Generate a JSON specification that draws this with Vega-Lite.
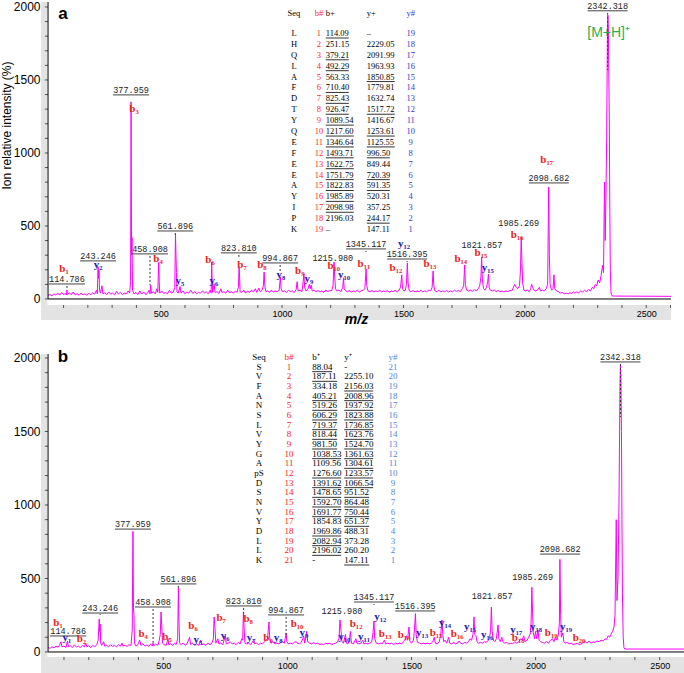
{
"$schema":"https://vega.github.io/schema/vega-lite/v6.json",
"padding":0,
"spacing":21,
"config":{"view":{"stroke":null},"font":"Liberation Sans","axis":{"labelFont":"Liberation Sans","titleFont":"Liberation Sans","grid":false}},
"datasets":{
"tx":[{"v":100},{"v":200},{"v":300},{"v":400},{"v":500},{"v":600},{"v":700},{"v":800},{"v":900},{"v":1000},{"v":1100},{"v":1200},{"v":1300},{"v":1400},{"v":1500},{"v":1600},{"v":1700},{"v":1800},{"v":1900},{"v":2000},{"v":2100},{"v":2200},{"v":2300},{"v":2400},{"v":2500},{"v":2600}],
"ty":[{"v":0},{"v":100},{"v":200},{"v":300},{"v":400},{"v":500},{"v":600},{"v":700},{"v":800},{"v":900},{"v":1000},{"v":1100},{"v":1200},{"v":1300},{"v":1400},{"v":1500},{"v":1600},{"v":1700},{"v":1800},{"v":1900},{"v":2000}],
"specA":[{"m":36,"i":25},{"m":44,"i":30},{"m":52,"i":22},{"m":60,"i":35},{"m":68,"i":28},{"m":76,"i":40},{"m":84,"i":26},{"m":92,"i":45},{"m":100,"i":30},{"m":108,"i":38},{"m":112,"i":28},{"m":114,"i":62},{"m":116,"i":30},{"m":124,"i":42},{"m":132,"i":30},{"m":140,"i":48},{"m":148,"i":28},{"m":156,"i":36},{"m":164,"i":25},{"m":172,"i":40},{"m":180,"i":30},{"m":188,"i":34},{"m":196,"i":26},{"m":204,"i":38},{"m":212,"i":30},{"m":220,"i":42},{"m":228,"i":34},{"m":236,"i":60},{"m":239,"i":35},{"m":242,"i":220},{"m":244,"i":140},{"m":246,"i":200},{"m":248,"i":60},{"m":252,"i":40},{"m":258,"i":90},{"m":262,"i":35},{"m":270,"i":42},{"m":278,"i":30},{"m":286,"i":48},{"m":294,"i":33},{"m":302,"i":40},{"m":310,"i":28},{"m":318,"i":52},{"m":326,"i":34},{"m":334,"i":45},{"m":342,"i":30},{"m":350,"i":40},{"m":358,"i":35},{"m":366,"i":55},{"m":372,"i":40},{"m":376,"i":120},{"m":378,"i":1350},{"m":380,"i":300},{"m":382,"i":420},{"m":384,"i":60},{"m":390,"i":35},{"m":398,"i":45},{"m":406,"i":30},{"m":414,"i":55},{"m":422,"i":34},{"m":430,"i":48},{"m":438,"i":30},{"m":446,"i":40},{"m":452,"i":60},{"m":456,"i":35},{"m":459,"i":95},{"m":462,"i":40},{"m":470,"i":50},{"m":478,"i":35},{"m":484,"i":70},{"m":488,"i":45},{"m":492,"i":250},{"m":494,"i":120},{"m":496,"i":40},{"m":504,"i":55},{"m":512,"i":38},{"m":520,"i":45},{"m":528,"i":35},{"m":536,"i":60},{"m":544,"i":40},{"m":552,"i":48},{"m":558,"i":80},{"m":561,"i":445},{"m":563,"i":300},{"m":565,"i":180},{"m":567,"i":50},{"m":572,"i":40},{"m":580,"i":85},{"m":584,"i":40},{"m":592,"i":55},{"m":600,"i":35},{"m":608,"i":48},{"m":616,"i":40},{"m":624,"i":60},{"m":632,"i":38},{"m":640,"i":50},{"m":648,"i":35},{"m":656,"i":45},{"m":664,"i":40},{"m":672,"i":55},{"m":680,"i":42},{"m":688,"i":48},{"m":696,"i":36},{"m":704,"i":60},{"m":708,"i":40},{"m":710,"i":252},{"m":712,"i":130},{"m":714,"i":45},{"m":720,"i":105},{"m":724,"i":45},{"m":732,"i":50},{"m":740,"i":38},{"m":748,"i":70},{"m":752,"i":45},{"m":760,"i":50},{"m":768,"i":40},{"m":776,"i":60},{"m":784,"i":42},{"m":792,"i":50},{"m":800,"i":40},{"m":808,"i":55},{"m":814,"i":45},{"m":820,"i":80},{"m":823,"i":220},{"m":825,"i":150},{"m":827,"i":50},{"m":834,"i":45},{"m":842,"i":60},{"m":850,"i":40},{"m":858,"i":55},{"m":866,"i":45},{"m":874,"i":60},{"m":882,"i":48},{"m":890,"i":70},{"m":896,"i":45},{"m":904,"i":75},{"m":910,"i":50},{"m":918,"i":60},{"m":923,"i":90},{"m":926,"i":185},{"m":929,"i":90},{"m":933,"i":50},{"m":940,"i":55},{"m":948,"i":45},{"m":956,"i":60},{"m":964,"i":48},{"m":972,"i":55},{"m":980,"i":50},{"m":988,"i":60},{"m":993,"i":150},{"m":996,"i":70},{"m":1002,"i":50},{"m":1010,"i":55},{"m":1018,"i":45},{"m":1026,"i":60},{"m":1034,"i":50},{"m":1042,"i":55},{"m":1050,"i":45},{"m":1058,"i":65},{"m":1062,"i":118},{"m":1066,"i":55},{"m":1074,"i":60},{"m":1082,"i":50},{"m":1087,"i":120},{"m":1090,"i":172},{"m":1093,"i":80},{"m":1098,"i":55},{"m":1106,"i":65},{"m":1112,"i":100},{"m":1116,"i":70},{"m":1120,"i":95},{"m":1124,"i":55},{"m":1132,"i":60},{"m":1140,"i":50},{"m":1148,"i":58},{"m":1156,"i":48},{"m":1164,"i":55},{"m":1172,"i":45},{"m":1180,"i":62},{"m":1188,"i":50},{"m":1196,"i":58},{"m":1204,"i":55},{"m":1210,"i":90},{"m":1214,"i":253},{"m":1217,"i":150},{"m":1220,"i":70},{"m":1226,"i":55},{"m":1234,"i":60},{"m":1242,"i":50},{"m":1250,"i":80},{"m":1253,"i":145},{"m":1256,"i":70},{"m":1262,"i":55},{"m":1270,"i":50},{"m":1278,"i":58},{"m":1286,"i":48},{"m":1294,"i":56},{"m":1302,"i":50},{"m":1310,"i":60},{"m":1318,"i":48},{"m":1326,"i":55},{"m":1334,"i":60},{"m":1341,"i":70},{"m":1346,"i":205},{"m":1349,"i":90},{"m":1354,"i":55},{"m":1362,"i":50},{"m":1370,"i":58},{"m":1378,"i":48},{"m":1386,"i":55},{"m":1394,"i":50},{"m":1402,"i":60},{"m":1410,"i":48},{"m":1418,"i":55},{"m":1426,"i":50},{"m":1434,"i":58},{"m":1442,"i":45},{"m":1450,"i":55},{"m":1458,"i":50},{"m":1466,"i":60},{"m":1474,"i":48},{"m":1482,"i":60},{"m":1488,"i":80},{"m":1493,"i":165},{"m":1496,"i":70},{"m":1502,"i":55},{"m":1508,"i":60},{"m":1512,"i":100},{"m":1516,"i":247},{"m":1519,"i":110},{"m":1524,"i":55},{"m":1532,"i":50},{"m":1540,"i":58},{"m":1548,"i":48},{"m":1556,"i":55},{"m":1564,"i":50},{"m":1572,"i":60},{"m":1580,"i":48},{"m":1588,"i":55},{"m":1596,"i":50},{"m":1604,"i":60},{"m":1612,"i":55},{"m":1618,"i":80},{"m":1622,"i":192},{"m":1625,"i":90},{"m":1630,"i":55},{"m":1638,"i":50},{"m":1646,"i":60},{"m":1654,"i":48},{"m":1662,"i":55},{"m":1670,"i":50},{"m":1678,"i":58},{"m":1686,"i":48},{"m":1694,"i":55},{"m":1702,"i":50},{"m":1710,"i":60},{"m":1718,"i":52},{"m":1726,"i":58},{"m":1734,"i":50},{"m":1742,"i":70},{"m":1748,"i":90},{"m":1752,"i":233},{"m":1755,"i":100},{"m":1760,"i":60},{"m":1768,"i":55},{"m":1776,"i":60},{"m":1784,"i":52},{"m":1792,"i":65},{"m":1800,"i":55},{"m":1808,"i":70},{"m":1814,"i":90},{"m":1819,"i":150},{"m":1822,"i":288},{"m":1825,"i":130},{"m":1830,"i":70},{"m":1836,"i":60},{"m":1842,"i":80},{"m":1847,"i":120},{"m":1850,"i":171},{"m":1853,"i":80},{"m":1858,"i":60},{"m":1866,"i":55},{"m":1874,"i":62},{"m":1882,"i":50},{"m":1890,"i":58},{"m":1898,"i":50},{"m":1906,"i":55},{"m":1914,"i":48},{"m":1922,"i":55},{"m":1930,"i":50},{"m":1938,"i":60},{"m":1946,"i":55},{"m":1952,"i":75},{"m":1958,"i":100},{"m":1964,"i":80},{"m":1970,"i":70},{"m":1978,"i":90},{"m":1982,"i":200},{"m":1985,"i":425},{"m":1988,"i":250},{"m":1991,"i":110},{"m":1996,"i":60},{"m":2004,"i":55},{"m":2010,"i":62},{"m":2018,"i":50},{"m":2024,"i":70},{"m":2028,"i":100},{"m":2032,"i":80},{"m":2038,"i":60},{"m":2044,"i":55},{"m":2052,"i":62},{"m":2060,"i":80},{"m":2064,"i":55},{"m":2072,"i":60},{"m":2080,"i":55},{"m":2088,"i":70},{"m":2094,"i":100},{"m":2098,"i":767},{"m":2101,"i":300},{"m":2104,"i":100},{"m":2110,"i":60},{"m":2116,"i":70},{"m":2120,"i":165},{"m":2123,"i":70},{"m":2130,"i":55},{"m":2138,"i":50},{"m":2146,"i":40},{"m":2154,"i":45},{"m":2162,"i":35},{"m":2170,"i":40},{"m":2178,"i":35},{"m":2186,"i":42},{"m":2194,"i":38},{"m":2200,"i":50},{"m":2206,"i":40},{"m":2214,"i":48},{"m":2222,"i":42},{"m":2230,"i":55},{"m":2238,"i":48},{"m":2246,"i":60},{"m":2254,"i":50},{"m":2262,"i":65},{"m":2270,"i":55},{"m":2278,"i":80},{"m":2284,"i":70},{"m":2290,"i":100},{"m":2296,"i":90},{"m":2302,"i":130},{"m":2308,"i":110},{"m":2314,"i":160},{"m":2320,"i":230},{"m":2324,"i":180},{"m":2328,"i":800},{"m":2331,"i":400},{"m":2334,"i":700},{"m":2337,"i":1100},{"m":2340,"i":1800},{"m":2342,"i":1945},{"m":2344,"i":1850},{"m":2346,"i":1500},{"m":2348,"i":1200},{"m":2350,"i":600},{"m":2352,"i":200},{"m":2355,"i":40},{"m":2360,"i":20},{"m":2602,"i":18}],
"specB":[{"m":36,"i":30},{"m":44,"i":25},{"m":52,"i":35},{"m":60,"i":28},{"m":68,"i":40},{"m":76,"i":32},{"m":82,"i":45},{"m":88,"i":70},{"m":92,"i":35},{"m":100,"i":40},{"m":108,"i":30},{"m":114,"i":75},{"m":118,"i":35},{"m":126,"i":42},{"m":134,"i":30},{"m":142,"i":48},{"m":150,"i":35},{"m":158,"i":40},{"m":166,"i":30},{"m":174,"i":45},{"m":182,"i":35},{"m":188,"i":60},{"m":192,"i":35},{"m":200,"i":42},{"m":208,"i":30},{"m":216,"i":45},{"m":224,"i":35},{"m":232,"i":50},{"m":238,"i":80},{"m":242,"i":224},{"m":244,"i":140},{"m":246,"i":190},{"m":248,"i":60},{"m":252,"i":45},{"m":260,"i":70},{"m":264,"i":40},{"m":272,"i":45},{"m":280,"i":35},{"m":288,"i":50},{"m":296,"i":38},{"m":304,"i":45},{"m":312,"i":35},{"m":320,"i":50},{"m":328,"i":40},{"m":334,"i":60},{"m":338,"i":40},{"m":346,"i":45},{"m":354,"i":38},{"m":362,"i":50},{"m":370,"i":45},{"m":375,"i":150},{"m":378,"i":820},{"m":380,"i":300},{"m":382,"i":250},{"m":384,"i":60},{"m":390,"i":40},{"m":398,"i":50},{"m":405,"i":80},{"m":410,"i":45},{"m":418,"i":55},{"m":426,"i":40},{"m":434,"i":48},{"m":442,"i":38},{"m":450,"i":55},{"m":456,"i":40},{"m":459,"i":60},{"m":462,"i":42},{"m":470,"i":55},{"m":478,"i":45},{"m":484,"i":80},{"m":488,"i":120},{"m":491,"i":272},{"m":494,"i":180},{"m":497,"i":60},{"m":504,"i":50},{"m":512,"i":45},{"m":519,"i":90},{"m":522,"i":50},{"m":530,"i":55},{"m":538,"i":45},{"m":546,"i":60},{"m":552,"i":50},{"m":558,"i":90},{"m":561,"i":435},{"m":563,"i":224},{"m":566,"i":60},{"m":572,"i":50},{"m":580,"i":60},{"m":588,"i":45},{"m":596,"i":55},{"m":606,"i":100},{"m":610,"i":50},{"m":618,"i":60},{"m":626,"i":45},{"m":634,"i":55},{"m":642,"i":45},{"m":651,"i":80},{"m":656,"i":50},{"m":664,"i":55},{"m":672,"i":45},{"m":680,"i":60},{"m":688,"i":50},{"m":696,"i":60},{"m":702,"i":90},{"m":705,"i":238},{"m":708,"i":170},{"m":712,"i":60},{"m":720,"i":90},{"m":724,"i":55},{"m":732,"i":60},{"m":740,"i":50},{"m":750,"i":110},{"m":754,"i":55},{"m":762,"i":60},{"m":770,"i":70},{"m":778,"i":55},{"m":786,"i":60},{"m":794,"i":50},{"m":802,"i":65},{"m":810,"i":55},{"m":816,"i":90},{"m":820,"i":80},{"m":823,"i":272},{"m":826,"i":160},{"m":829,"i":60},{"m":836,"i":55},{"m":844,"i":60},{"m":852,"i":50},{"m":858,"i":65},{"m":864,"i":80},{"m":868,"i":55},{"m":876,"i":60},{"m":884,"i":50},{"m":892,"i":60},{"m":900,"i":55},{"m":908,"i":70},{"m":914,"i":80},{"m":920,"i":90},{"m":926,"i":204},{"m":929,"i":90},{"m":934,"i":60},{"m":942,"i":70},{"m":950,"i":55},{"m":958,"i":60},{"m":966,"i":55},{"m":974,"i":65},{"m":982,"i":70},{"m":988,"i":60},{"m":995,"i":129},{"m":998,"i":70},{"m":1004,"i":55},{"m":1012,"i":60},{"m":1020,"i":55},{"m":1028,"i":65},{"m":1036,"i":70},{"m":1040,"i":60},{"m":1048,"i":55},{"m":1056,"i":65},{"m":1062,"i":90},{"m":1066,"i":110},{"m":1070,"i":60},{"m":1078,"i":140},{"m":1082,"i":70},{"m":1090,"i":60},{"m":1098,"i":55},{"m":1106,"i":65},{"m":1114,"i":55},{"m":1122,"i":60},{"m":1130,"i":50},{"m":1138,"i":55},{"m":1146,"i":50},{"m":1154,"i":60},{"m":1162,"i":55},{"m":1170,"i":60},{"m":1178,"i":50},{"m":1186,"i":55},{"m":1194,"i":60},{"m":1202,"i":70},{"m":1208,"i":90},{"m":1212,"i":218},{"m":1216,"i":150},{"m":1220,"i":70},{"m":1226,"i":60},{"m":1234,"i":120},{"m":1238,"i":60},{"m":1244,"i":55},{"m":1250,"i":80},{"m":1254,"i":140},{"m":1258,"i":60},{"m":1266,"i":55},{"m":1276,"i":90},{"m":1280,"i":60},{"m":1288,"i":55},{"m":1296,"i":60},{"m":1304,"i":80},{"m":1308,"i":55},{"m":1316,"i":60},{"m":1324,"i":55},{"m":1332,"i":60},{"m":1340,"i":70},{"m":1345,"i":130},{"m":1349,"i":211},{"m":1352,"i":90},{"m":1358,"i":60},{"m":1366,"i":55},{"m":1374,"i":60},{"m":1382,"i":55},{"m":1391,"i":80},{"m":1396,"i":55},{"m":1404,"i":60},{"m":1412,"i":55},{"m":1420,"i":60},{"m":1428,"i":50},{"m":1436,"i":60},{"m":1444,"i":55},{"m":1452,"i":60},{"m":1460,"i":55},{"m":1468,"i":70},{"m":1474,"i":80},{"m":1479,"i":110},{"m":1484,"i":80},{"m":1490,"i":170},{"m":1494,"i":70},{"m":1500,"i":60},{"m":1508,"i":80},{"m":1512,"i":150},{"m":1516,"i":259},{"m":1519,"i":120},{"m":1524,"i":65},{"m":1532,"i":60},{"m":1540,"i":55},{"m":1548,"i":60},{"m":1556,"i":55},{"m":1564,"i":60},{"m":1572,"i":55},{"m":1580,"i":60},{"m":1586,"i":70},{"m":1592,"i":100},{"m":1596,"i":60},{"m":1604,"i":55},{"m":1612,"i":70},{"m":1618,"i":120},{"m":1623,"i":218},{"m":1626,"i":120},{"m":1630,"i":70},{"m":1636,"i":80},{"m":1642,"i":60},{"m":1650,"i":100},{"m":1654,"i":60},{"m":1662,"i":55},{"m":1670,"i":65},{"m":1678,"i":55},{"m":1686,"i":60},{"m":1692,"i":75},{"m":1698,"i":60},{"m":1706,"i":55},{"m":1714,"i":65},{"m":1722,"i":60},{"m":1730,"i":70},{"m":1736,"i":90},{"m":1742,"i":80},{"m":1748,"i":120},{"m":1752,"i":238},{"m":1755,"i":120},{"m":1760,"i":110},{"m":1764,"i":70},{"m":1770,"i":60},{"m":1778,"i":65},{"m":1786,"i":60},{"m":1794,"i":70},{"m":1800,"i":65},{"m":1808,"i":75},{"m":1814,"i":90},{"m":1819,"i":150},{"m":1822,"i":306},{"m":1825,"i":140},{"m":1830,"i":80},{"m":1836,"i":70},{"m":1842,"i":90},{"m":1849,"i":184},{"m":1852,"i":90},{"m":1858,"i":70},{"m":1864,"i":100},{"m":1868,"i":70},{"m":1876,"i":60},{"m":1884,"i":65},{"m":1892,"i":55},{"m":1900,"i":60},{"m":1908,"i":55},{"m":1916,"i":70},{"m":1924,"i":60},{"m":1932,"i":70},{"m":1940,"i":90},{"m":1946,"i":80},{"m":1952,"i":110},{"m":1958,"i":70},{"m":1966,"i":80},{"m":1972,"i":100},{"m":1978,"i":120},{"m":1982,"i":200},{"m":1985,"i":440},{"m":1988,"i":260},{"m":1991,"i":130},{"m":1996,"i":90},{"m":2000,"i":140},{"m":2004,"i":90},{"m":2010,"i":150},{"m":2014,"i":80},{"m":2020,"i":70},{"m":2028,"i":65},{"m":2036,"i":60},{"m":2044,"i":70},{"m":2052,"i":60},{"m":2060,"i":80},{"m":2068,"i":90},{"m":2074,"i":70},{"m":2080,"i":100},{"m":2086,"i":80},{"m":2092,"i":120},{"m":2096,"i":200},{"m":2098,"i":630},{"m":2101,"i":250},{"m":2104,"i":100},{"m":2110,"i":130},{"m":2114,"i":70},{"m":2120,"i":60},{"m":2128,"i":65},{"m":2136,"i":55},{"m":2144,"i":60},{"m":2152,"i":50},{"m":2160,"i":55},{"m":2168,"i":60},{"m":2176,"i":50},{"m":2184,"i":55},{"m":2192,"i":65},{"m":2200,"i":70},{"m":2208,"i":60},{"m":2216,"i":75},{"m":2224,"i":60},{"m":2232,"i":70},{"m":2240,"i":65},{"m":2248,"i":75},{"m":2256,"i":70},{"m":2264,"i":80},{"m":2272,"i":75},{"m":2280,"i":90},{"m":2286,"i":85},{"m":2292,"i":110},{"m":2298,"i":100},{"m":2304,"i":120},{"m":2310,"i":140},{"m":2316,"i":170},{"m":2320,"i":250},{"m":2325,"i":900},{"m":2328,"i":350},{"m":2332,"i":500},{"m":2336,"i":1000},{"m":2340,"i":1800},{"m":2342,"i":1950},{"m":2344,"i":1850},{"m":2346,"i":1500},{"m":2348,"i":900},{"m":2350,"i":400},{"m":2353,"i":100},{"m":2356,"i":30},{"m":2360,"i":20},{"m":2602,"i":20}],
"pkA":[{"t":"114.786","mz":114,"ly":137,"u":1,"d2":75},{"t":"243.246","mz":242,"ly":295,"u":1},{"t":"377.959","mz":378,"ly":1432,"u":1},{"t":"458.908","mz":456,"ly":343,"u":1,"d2":96},{"t":"561.896","mz":560,"ly":500,"u":1,"d2":438},{"t":"823.810","mz":822,"ly":350,"u":1,"d2":274},{"t":"994.867","mz":992,"ly":281,"u":1,"d2":185},{"t":"1215.980","mz":1209,"ly":281,"u":0},{"t":"1345.117","mz":1346,"ly":377,"u":1,"d2":322},{"t":"1516.395","mz":1515,"ly":308,"u":1,"d2":253},{"t":"1821.857","mz":1823,"ly":370,"u":0},{"t":"1985.269","mz":1975,"ly":520,"u":0},{"t":"2098.682","mz":2099,"ly":829,"u":1},{"t":"2342.318","mz":2341,"ly":2008,"u":1,"d2":1568}],
"pkB":[{"t":"114.786","mz":117,"ly":143,"u":1},{"t":"243.246","mz":246,"ly":299,"u":1,"d2":258},{"t":"377.959","mz":378,"ly":870,"u":1},{"t":"458.908","mz":459,"ly":340,"u":1,"d2":60},{"t":"561.896","mz":561,"ly":497,"u":1,"d2":435},{"t":"823.810","mz":824,"ly":347,"u":1,"d2":262},{"t":"994.867","mz":995,"ly":286,"u":1,"d2":100},{"t":"1215.980","mz":1220,"ly":279,"u":0},{"t":"1345.117","mz":1349,"ly":374,"u":1,"d2":320},{"t":"1516.395","mz":1515,"ly":313,"u":1,"d2":262},{"t":"1821.857","mz":1825,"ly":381,"u":0},{"t":"1985.269","mz":1988,"ly":510,"u":0},{"t":"2098.682","mz":2099,"ly":700,"u":1},{"t":"2342.318","mz":2342,"ly":2007,"u":1,"d2":1599}],
"ionA":[{"t":"b₁","c":"b","mz":102,"i":205},{"t":"y₂","c":"y","mz":242,"i":233},{"t":"b₃","c":"b","mz":390,"i":1302},{"t":"b₄","c":"b","mz":489,"i":274},{"t":"y₅","c":"y","mz":579,"i":123},{"t":"b₆","c":"b","mz":703,"i":267},{"t":"y₆","c":"y","mz":719,"i":123},{"t":"b₇","c":"b","mz":835,"i":233},{"t":"b₈","c":"b","mz":917,"i":233},{"t":"y₈","c":"y","mz":995,"i":164},{"t":"b₉","c":"b","mz":1073,"i":192},{"t":"y₉","c":"y","mz":1111,"i":137},{"t":"b₁₀","c":"b","mz":1213,"i":226},{"t":"y₁₀","c":"y","mz":1255,"i":164},{"t":"b₁₁","c":"b","mz":1337,"i":240},{"t":"y₁₂","c":"y","mz":1502,"i":377},{"t":"b₁₂","c":"b","mz":1469,"i":212},{"t":"b₁₃","c":"b","mz":1609,"i":240},{"t":"b₁₄","c":"b","mz":1736,"i":274},{"t":"b₁₅","c":"b","mz":1819,"i":315},{"t":"y₁₅","c":"y","mz":1847,"i":212},{"t":"b₁₆","c":"b","mz":1968,"i":440},{"t":"b₁₇","c":"b","mz":2090,"i":953}],
"ionB":[{"t":"b₁","c":"b","mz":76,"i":197},{"t":"y₁","c":"y","mz":112,"i":95},{"t":"b₂","c":"b","mz":170,"i":88},{"t":"b₄","c":"b","mz":419,"i":122},{"t":"b₅","c":"b","mz":515,"i":102},{"t":"b₆","c":"b","mz":620,"i":177},{"t":"y₅","c":"y","mz":640,"i":82},{"t":"b₇","c":"b","mz":733,"i":231},{"t":"y₆","c":"y","mz":749,"i":109},{"t":"b₈","c":"b","mz":842,"i":224},{"t":"y₇","c":"y","mz":854,"i":95},{"t":"b₉","c":"b","mz":922,"i":95},{"t":"y₈","c":"y","mz":963,"i":95},{"t":"b₁₀","c":"b","mz":1039,"i":190},{"t":"y₉","c":"y","mz":1067,"i":129},{"t":"y₁₀","c":"y","mz":1229,"i":102},{"t":"b₁₂","c":"b","mz":1277,"i":190},{"t":"y₁₁","c":"y","mz":1309,"i":102},{"t":"y₁₂","c":"y","mz":1374,"i":238},{"t":"b₁₃","c":"b","mz":1394,"i":122},{"t":"b₁₄","c":"b","mz":1470,"i":116},{"t":"y₁₃","c":"y","mz":1543,"i":129},{"t":"b₁₅","c":"b","mz":1599,"i":129},{"t":"y₁₄","c":"y","mz":1635,"i":197},{"t":"b₁₆","c":"b","mz":1684,"i":122},{"t":"y₁₅","c":"y","mz":1736,"i":170},{"t":"y₁₆","c":"y","mz":1805,"i":116},{"t":"y₁₇","c":"y","mz":1922,"i":150},{"t":"b₁₈","c":"b","mz":1930,"i":95},{"t":"y₁₈","c":"y","mz":2002,"i":170},{"t":"b₁₉","c":"b","mz":2063,"i":129},{"t":"y₁₉","c":"y","mz":2123,"i":170},{"t":"b₂₀","c":"b","mz":2175,"i":95}],
"tabA":[{"r":1,"s":"L","bn":"1","bp":"114.09","yp":"–","yn":"19","bu":1,"yu":0},{"r":2,"s":"H","bn":"2","bp":"251.15","yp":"2229.05","yn":"18","bu":0,"yu":0},{"r":3,"s":"Q","bn":"3","bp":"379.21","yp":"2091.99","yn":"17","bu":1,"yu":0},{"r":4,"s":"L","bn":"4","bp":"492.29","yp":"1963.93","yn":"16","bu":1,"yu":0},{"r":5,"s":"A","bn":"5","bp":"563.33","yp":"1850.85","yn":"15","bu":0,"yu":1},{"r":6,"s":"F","bn":"6","bp":"710.40","yp":"1779.81","yn":"14","bu":1,"yu":0},{"r":7,"s":"D","bn":"7","bp":"825.43","yp":"1632.74","yn":"13","bu":1,"yu":0},{"r":8,"s":"T","bn":"8","bp":"926.47","yp":"1517.72","yn":"12","bu":1,"yu":1},{"r":9,"s":"Y","bn":"9","bp":"1089.54","yp":"1416.67","yn":"11","bu":1,"yu":0},{"r":10,"s":"Q","bn":"10","bp":"1217.60","yp":"1253.61","yn":"10","bu":1,"yu":1},{"r":11,"s":"E","bn":"11","bp":"1346.64","yp":"1125.55","yn":"9","bu":1,"yu":1},{"r":12,"s":"F","bn":"12","bp":"1493.71","yp":"996.50","yn":"8","bu":1,"yu":1},{"r":13,"s":"E","bn":"13","bp":"1622.75","yp":"849.44","yn":"7","bu":1,"yu":0},{"r":14,"s":"E","bn":"14","bp":"1751.79","yp":"720.39","yn":"6","bu":1,"yu":1},{"r":15,"s":"A","bn":"15","bp":"1822.83","yp":"591.35","yn":"5","bu":1,"yu":1},{"r":16,"s":"Y","bn":"16","bp":"1985.89","yp":"520.31","yn":"4","bu":1,"yu":0},{"r":17,"s":"I","bn":"17","bp":"2098.98","yp":"357.25","yn":"3","bu":1,"yu":0},{"r":18,"s":"P","bn":"18","bp":"2196.03","yp":"244.17","yn":"2","bu":0,"yu":1},{"r":19,"s":"K","bn":"19","bp":"–","yp":"147.11","yn":"1","bu":0,"yu":0}],
"tabB":[{"r":1,"s":"S","bn":"1","bp":"88.04","yp":"-","yn":"21","bu":1,"yu":0},{"r":2,"s":"V","bn":"2","bp":"187.11","yp":"2255.10","yn":"20","bu":1,"yu":0},{"r":3,"s":"F","bn":"3","bp":"334.18","yp":"2156.03","yn":"19","bu":0,"yu":1},{"r":4,"s":"A","bn":"4","bp":"405.21","yp":"2008.96","yn":"18","bu":1,"yu":1},{"r":5,"s":"N","bn":"5","bp":"519.26","yp":"1937.92","yn":"17","bu":1,"yu":1},{"r":6,"s":"S","bn":"6","bp":"606.29","yp":"1823.88","yn":"16","bu":1,"yu":1},{"r":7,"s":"L","bn":"7","bp":"719.37","yp":"1736.85","yn":"15","bu":1,"yu":1},{"r":8,"s":"V","bn":"8","bp":"818.44","yp":"1623.76","yn":"14","bu":1,"yu":1},{"r":9,"s":"Y","bn":"9","bp":"981.50","yp":"1524.70","yn":"13","bu":1,"yu":1},{"r":10,"s":"G","bn":"10","bp":"1038.53","yp":"1361.63","yn":"12","bu":1,"yu":1},{"r":11,"s":"A","bn":"11","bp":"1109.56","yp":"1304.61","yn":"11","bu":0,"yu":1},{"r":12,"s":"pS","bn":"12","bp":"1276.60","yp":"1233.57","yn":"10","bu":1,"yu":1},{"r":13,"s":"D","bn":"13","bp":"1391.62","yp":"1066.54","yn":"9","bu":1,"yu":1},{"r":14,"s":"S","bn":"14","bp":"1478.65","yp":"951.52","yn":"8","bu":1,"yu":1},{"r":15,"s":"N","bn":"15","bp":"1592.70","yp":"864.48","yn":"7","bu":1,"yu":1},{"r":16,"s":"V","bn":"16","bp":"1691.77","yp":"750.44","yn":"6","bu":1,"yu":1},{"r":17,"s":"Y","bn":"17","bp":"1854.83","yp":"651.37","yn":"5","bu":0,"yu":1},{"r":18,"s":"D","bn":"18","bp":"1969.86","yp":"488.31","yn":"4","bu":1,"yu":0},{"r":19,"s":"L","bn":"19","bp":"2082.94","yp":"373.28","yn":"3","bu":1,"yu":0},{"r":20,"s":"L","bn":"20","bp":"2196.02","yp":"260.20","yn":"2","bu":1,"yu":0},{"r":21,"s":"K","bn":"21","bp":"-","yp":"147.11","yn":"1","bu":0,"yu":1}]
},
"vconcat":[
{
"width":630,"height":318,
"layer":[
{"layer":[
{"data":{"values":[{}]},"mark":{"type":"rect","color":"#e3e3e3"},"encoding":{"x":{"datum":7,"type":"quantitative","scale":{"domain":[7,2602],"nice":false,"zero":false}},"x2":{"datum":2602},"y":{"datum":-144,"type":"quantitative","scale":{"domain":[-144,2034],"nice":false,"zero":false}},"y2":{"datum":-41}}},
{"data":{"values":[{}]},"mark":{"type":"rect","color":"#e3e3e3"},"encoding":{"x":{"datum":7,"type":"quantitative","scale":{"domain":[7,2602],"nice":false,"zero":false}},"x2":{"datum":33},"y":{"datum":-144,"type":"quantitative","scale":{"domain":[-144,2034],"nice":false,"zero":false}},"y2":{"datum":2034}}},
{"data":{"name":"tx"},"mark":{"type":"rule","color":"#555","strokeWidth":1},"encoding":{"x":{"field":"v","type":"quantitative","scale":{"domain":[7,2602],"nice":false,"zero":false}},"y":{"datum":-41,"type":"quantitative","scale":{"domain":[-144,2034],"nice":false,"zero":false}},"y2":{"datum":-62}}},
{"data":{"name":"ty"},"mark":{"type":"rule","color":"#555","strokeWidth":1},"encoding":{"y":{"field":"v","type":"quantitative","scale":{"domain":[-144,2034],"nice":false,"zero":false}},"x":{"datum":23,"type":"quantitative","scale":{"domain":[7,2602],"nice":false,"zero":false}},"x2":{"datum":36}}},
{"data":{"name":"specA"},"mark":{"type":"line","color":"#ff00ff","strokeWidth":1},"encoding":{
"x":{"field":"m","type":"quantitative","scale":{"domain":[7,2602],"nice":false,"zero":false},"axis":{"zindex":2,"title":"m/z","titleFontSize":14,"titleFontStyle":"italic","titleFontWeight":"bold","titlePadding":-6,"offset":-15,"values":[500,1000,1500,2000,2500],"format":"d","domain":false,"ticks":false,"labelFontSize":9,"labelPadding":4,"labelOverlap":false,"labelColor":"#000"}},
"y":{"field":"i","type":"quantitative","scale":{"domain":[-144,2034],"nice":false,"zero":false},"axis":{"zindex":2,"title":"Ion relative intensity (%)","titleFontSize":12,"titleFontWeight":"normal","titlePadding":0,"titleY":123,"values":[0,500,1000,1500,2000],"format":"d","domain":false,"ticks":false,"labelFontSize":12,"labelPadding":1,"labelColor":"#000"}}}},
{"data":{"values":[{}]},"mark":{"type":"rule","color":"#000","strokeWidth":1},"encoding":{"x":{"datum":36,"type":"quantitative","scale":{"domain":[7,2602],"nice":false,"zero":false}},"x2":{"datum":2602},"y":{"datum":0,"type":"quantitative","scale":{"domain":[-144,2034],"nice":false,"zero":false}}}},
{"data":{"values":[{}]},"mark":{"type":"rule","color":"#000","strokeWidth":1},"encoding":{"x":{"datum":36,"type":"quantitative","scale":{"domain":[7,2602],"nice":false,"zero":false}},"y":{"datum":0,"type":"quantitative","scale":{"domain":[-144,2034],"nice":false,"zero":false}},"y2":{"datum":2034}}},
{"data":{"name":"pkA"},"transform":[{"filter":"isValid(datum.d2)"}],"mark":{"type":"rule","color":"#333","strokeWidth":1,"strokeDash":[2,2],"yOffset":7},"encoding":{"x":{"field":"mz","type":"quantitative","scale":{"domain":[7,2602],"nice":false,"zero":false}},"y":{"field":"ly","type":"quantitative","scale":{"domain":[-144,2034],"nice":false,"zero":false}},"y2":{"field":"d2"}}},
{"data":{"name":"pkA"},"mark":{"type":"text","font":"Liberation Mono","fontSize":8.5,"color":"#222","align":"center","baseline":"middle"},"encoding":{"x":{"field":"mz","type":"quantitative","scale":{"domain":[7,2602],"nice":false,"zero":false}},"y":{"field":"ly","type":"quantitative","scale":{"domain":[-144,2034],"nice":false,"zero":false}},"text":{"field":"t"}}},
{"data":{"name":"pkA"},"transform":[{"filter":"datum.u == 1 && length(datum.t) == 7"}],"mark":{"type":"rule","color":"#444","strokeWidth":1,"xOffset":-18,"x2Offset":18,"yOffset":5},"encoding":{"x":{"field":"mz","type":"quantitative","scale":{"domain":[7,2602],"nice":false,"zero":false}},"x2":{"field":"mz"},"y":{"field":"ly","type":"quantitative","scale":{"domain":[-144,2034],"nice":false,"zero":false}}}},
{"data":{"name":"pkA"},"transform":[{"filter":"datum.u == 1 && length(datum.t) == 8"}],"mark":{"type":"rule","color":"#444","strokeWidth":1,"xOffset":-20,"x2Offset":20,"yOffset":5},"encoding":{"x":{"field":"mz","type":"quantitative","scale":{"domain":[7,2602],"nice":false,"zero":false}},"x2":{"field":"mz"},"y":{"field":"ly","type":"quantitative","scale":{"domain":[-144,2034],"nice":false,"zero":false}}}},
{"data":{"name":"ionA"},"mark":{"type":"text","font":"Liberation Serif","fontWeight":"bold","fontSize":11,"align":"center","baseline":"middle"},"encoding":{"x":{"field":"mz","type":"quantitative","scale":{"domain":[7,2602],"nice":false,"zero":false}},"y":{"field":"i","type":"quantitative","scale":{"domain":[-144,2034],"nice":false,"zero":false}},"text":{"field":"t"},"color":{"field":"c","type":"nominal","scale":{"domain":["b","y"],"range":["#ee1c1c","#2020b0"]},"legend":null}}},
{"data":{"values":[{}]},"mark":{"type":"text","text":"a","font":"Liberation Sans","fontWeight":"bold","fontSize":17,"align":"center","baseline":"middle","color":"#000"},"encoding":{"x":{"datum":98,"type":"quantitative","scale":{"domain":[7,2602],"nice":false,"zero":false}},"y":{"datum":1952,"type":"quantitative","scale":{"domain":[-144,2034],"nice":false,"zero":false}}}},
{"data":{"values":[{}]},"mark":{"type":"text","text":"[M+H]⁺","font":"Liberation Sans","fontSize":14,"align":"center","baseline":"middle","color":"#1fb04a"},"encoding":{"x":{"datum":2345,"type":"quantitative","scale":{"domain":[7,2602],"nice":false,"zero":false}},"y":{"datum":1822,"type":"quantitative","scale":{"domain":[-144,2034],"nice":false,"zero":false}}}}
]},
{"layer":[
{"data":{"name":"tabA"},"mark":{"type":"text","font":"Liberation Serif","fontSize":8.5,"align":"center","baseline":"middle","color":"#000"},"encoding":{"x":{"datum":1049,"type":"quantitative"},"y":{"field":"r","type":"quantitative","scale":{"domain":[-1.847,27.35],"nice":false,"zero":false,"reverse":true},"axis":null},"text":{"field":"s"}}},
{"data":{"name":"tabA"},"mark":{"type":"text","font":"Liberation Serif","fontSize":8.5,"align":"center","baseline":"middle","color":"#ff2a2a"},"encoding":{"x":{"datum":1152,"type":"quantitative"},"y":{"field":"r","type":"quantitative","scale":{"domain":[-1.847,27.35],"nice":false,"zero":false,"reverse":true},"axis":null},"text":{"field":"bn"}}},
{"data":{"name":"tabA"},"mark":{"type":"text","font":"Liberation Serif","fontSize":8.5,"align":"left","baseline":"middle","color":"#000"},"encoding":{"x":{"datum":1180,"type":"quantitative"},"y":{"field":"r","type":"quantitative","scale":{"domain":[-1.847,27.35],"nice":false,"zero":false,"reverse":true},"axis":null},"text":{"field":"bp"}}},
{"data":{"name":"tabA"},"mark":{"type":"text","font":"Liberation Serif","fontSize":8.5,"align":"left","baseline":"middle","color":"#000"},"encoding":{"x":{"datum":1349,"type":"quantitative"},"y":{"field":"r","type":"quantitative","scale":{"domain":[-1.847,27.35],"nice":false,"zero":false,"reverse":true},"axis":null},"text":{"field":"yp"}}},
{"data":{"name":"tabA"},"mark":{"type":"text","font":"Liberation Serif","fontSize":8.5,"align":"center","baseline":"middle","color":"#3a3acc"},"encoding":{"x":{"datum":1530,"type":"quantitative"},"y":{"field":"r","type":"quantitative","scale":{"domain":[-1.847,27.35],"nice":false,"zero":false,"reverse":true},"axis":null},"text":{"field":"yn"}}},
{"data":{"name":"tabA"},"transform":[{"filter":"datum.bu == 1 && length(datum.bp) == 6"}],"mark":{"type":"rule","color":"#333","strokeWidth":1,"x2Offset":23,"yOffset":5},"encoding":{"x":{"datum":1180,"type":"quantitative"},"x2":{"datum":1180},"y":{"field":"r","type":"quantitative","scale":{"domain":[-1.847,27.35],"nice":false,"zero":false,"reverse":true},"axis":null}}},
{"data":{"name":"tabA"},"transform":[{"filter":"datum.bu == 1 && length(datum.bp) == 7"}],"mark":{"type":"rule","color":"#333","strokeWidth":1,"x2Offset":28,"yOffset":5},"encoding":{"x":{"datum":1180,"type":"quantitative"},"x2":{"datum":1180},"y":{"field":"r","type":"quantitative","scale":{"domain":[-1.847,27.35],"nice":false,"zero":false,"reverse":true},"axis":null}}},
{"data":{"name":"tabA"},"transform":[{"filter":"datum.yu == 1 && length(datum.yp) == 6"}],"mark":{"type":"rule","color":"#333","strokeWidth":1,"x2Offset":23,"yOffset":5},"encoding":{"x":{"datum":1349,"type":"quantitative"},"x2":{"datum":1349},"y":{"field":"r","type":"quantitative","scale":{"domain":[-1.847,27.35],"nice":false,"zero":false,"reverse":true},"axis":null}}},
{"data":{"name":"tabA"},"transform":[{"filter":"datum.yu == 1 && length(datum.yp) == 7"}],"mark":{"type":"rule","color":"#333","strokeWidth":1,"x2Offset":28,"yOffset":5},"encoding":{"x":{"datum":1349,"type":"quantitative"},"x2":{"datum":1349},"y":{"field":"r","type":"quantitative","scale":{"domain":[-1.847,27.35],"nice":false,"zero":false,"reverse":true},"axis":null}}},
{"data":{"values":[{}]},"mark":{"type":"text","text":"Seq","font":"Liberation Serif","fontSize":8.5,"align":"center","baseline":"middle","color":"#000"},"encoding":{"x":{"datum":1049,"type":"quantitative"},"y":{"datum":-0.837,"type":"quantitative","scale":{"domain":[-1.847,27.35],"nice":false,"zero":false,"reverse":true},"axis":null}}},
{"data":{"values":[{}]},"mark":{"type":"text","text":"b#","font":"Liberation Serif","fontSize":8.5,"align":"center","baseline":"middle","color":"#ff2a2a"},"encoding":{"x":{"datum":1152,"type":"quantitative"},"y":{"datum":-0.837,"type":"quantitative","scale":{"domain":[-1.847,27.35],"nice":false,"zero":false,"reverse":true},"axis":null}}},
{"data":{"values":[{}]},"mark":{"type":"text","text":"b+","font":"Liberation Serif","fontSize":8.5,"align":"left","baseline":"middle","color":"#000"},"encoding":{"x":{"datum":1180,"type":"quantitative"},"y":{"datum":-0.837,"type":"quantitative","scale":{"domain":[-1.847,27.35],"nice":false,"zero":false,"reverse":true},"axis":null}}},
{"data":{"values":[{}]},"mark":{"type":"text","text":"y+","font":"Liberation Serif","fontSize":8.5,"align":"left","baseline":"middle","color":"#000"},"encoding":{"x":{"datum":1349,"type":"quantitative"},"y":{"datum":-0.837,"type":"quantitative","scale":{"domain":[-1.847,27.35],"nice":false,"zero":false,"reverse":true},"axis":null}}},
{"data":{"values":[{}]},"mark":{"type":"text","text":"y#","font":"Liberation Serif","fontSize":8.5,"align":"center","baseline":"middle","color":"#3a3acc"},"encoding":{"x":{"datum":1530,"type":"quantitative"},"y":{"datum":-0.837,"type":"quantitative","scale":{"domain":[-1.847,27.35],"nice":false,"zero":false,"reverse":true},"axis":null}}}
]}
],
"resolve":{"scale":{"y":"independent"}}
},
{
"width":644,"height":319,
"layer":[
{"layer":[
{"data":{"values":[{}]},"mark":{"type":"rect","color":"#e3e3e3"},"encoding":{"x":{"datum":7.5,"type":"quantitative","scale":{"domain":[7.5,2602],"nice":false,"zero":false}},"x2":{"datum":2602},"y":{"datum":-143,"type":"quantitative","scale":{"domain":[-143,2027],"nice":false,"zero":false}},"y2":{"datum":-34}}},
{"data":{"values":[{}]},"mark":{"type":"rect","color":"#e3e3e3"},"encoding":{"x":{"datum":7.5,"type":"quantitative","scale":{"domain":[7.5,2602],"nice":false,"zero":false}},"x2":{"datum":33},"y":{"datum":-143,"type":"quantitative","scale":{"domain":[-143,2027],"nice":false,"zero":false}},"y2":{"datum":2027}}},
{"data":{"name":"tx"},"mark":{"type":"rule","color":"#555","strokeWidth":1},"encoding":{"x":{"field":"v","type":"quantitative","scale":{"domain":[7.5,2602],"nice":false,"zero":false}},"y":{"datum":-34,"type":"quantitative","scale":{"domain":[-143,2027],"nice":false,"zero":false}},"y2":{"datum":-55}}},
{"data":{"name":"ty"},"mark":{"type":"rule","color":"#555","strokeWidth":1},"encoding":{"y":{"field":"v","type":"quantitative","scale":{"domain":[-143,2027],"nice":false,"zero":false}},"x":{"datum":23,"type":"quantitative","scale":{"domain":[7.5,2602],"nice":false,"zero":false}},"x2":{"datum":36}}},
{"data":{"name":"specB"},"mark":{"type":"line","color":"#ff00ff","strokeWidth":1},"encoding":{
"x":{"field":"m","type":"quantitative","scale":{"domain":[7.5,2602],"nice":false,"zero":false},"axis":{"zindex":2,"title":null,"offset":-16,"values":[500,1000,1500,2000,2500],"format":"d","domain":false,"ticks":false,"labelFontSize":9,"labelPadding":4,"labelOverlap":false,"labelColor":"#000"}},
"y":{"field":"i","type":"quantitative","scale":{"domain":[-143,2027],"nice":false,"zero":false},"axis":{"zindex":2,"title":null,"values":[0,500,1000,1500,2000],"format":"d","domain":false,"ticks":false,"labelFontSize":12,"labelPadding":1,"labelColor":"#000"}}}},
{"data":{"values":[{}]},"mark":{"type":"rule","color":"#000","strokeWidth":1},"encoding":{"x":{"datum":36,"type":"quantitative","scale":{"domain":[7.5,2602],"nice":false,"zero":false}},"x2":{"datum":2602},"y":{"datum":0,"type":"quantitative","scale":{"domain":[-143,2027],"nice":false,"zero":false}}}},
{"data":{"values":[{}]},"mark":{"type":"rule","color":"#000","strokeWidth":1},"encoding":{"x":{"datum":36,"type":"quantitative","scale":{"domain":[7.5,2602],"nice":false,"zero":false}},"y":{"datum":0,"type":"quantitative","scale":{"domain":[-143,2027],"nice":false,"zero":false}},"y2":{"datum":2027}}},
{"data":{"name":"pkB"},"transform":[{"filter":"isValid(datum.d2)"}],"mark":{"type":"rule","color":"#333","strokeWidth":1,"strokeDash":[2,2],"yOffset":7},"encoding":{"x":{"field":"mz","type":"quantitative","scale":{"domain":[7.5,2602],"nice":false,"zero":false}},"y":{"field":"ly","type":"quantitative","scale":{"domain":[-143,2027],"nice":false,"zero":false}},"y2":{"field":"d2"}}},
{"data":{"name":"pkB"},"mark":{"type":"text","font":"Liberation Mono","fontSize":8.5,"color":"#222","align":"center","baseline":"middle"},"encoding":{"x":{"field":"mz","type":"quantitative","scale":{"domain":[7.5,2602],"nice":false,"zero":false}},"y":{"field":"ly","type":"quantitative","scale":{"domain":[-143,2027],"nice":false,"zero":false}},"text":{"field":"t"}}},
{"data":{"name":"pkB"},"transform":[{"filter":"datum.u == 1 && length(datum.t) == 7"}],"mark":{"type":"rule","color":"#444","strokeWidth":1,"xOffset":-18,"x2Offset":18,"yOffset":5},"encoding":{"x":{"field":"mz","type":"quantitative","scale":{"domain":[7.5,2602],"nice":false,"zero":false}},"x2":{"field":"mz"},"y":{"field":"ly","type":"quantitative","scale":{"domain":[-143,2027],"nice":false,"zero":false}}}},
{"data":{"name":"pkB"},"transform":[{"filter":"datum.u == 1 && length(datum.t) == 8"}],"mark":{"type":"rule","color":"#444","strokeWidth":1,"xOffset":-20,"x2Offset":20,"yOffset":5},"encoding":{"x":{"field":"mz","type":"quantitative","scale":{"domain":[7.5,2602],"nice":false,"zero":false}},"x2":{"field":"mz"},"y":{"field":"ly","type":"quantitative","scale":{"domain":[-143,2027],"nice":false,"zero":false}}}},
{"data":{"name":"ionB"},"mark":{"type":"text","font":"Liberation Serif","fontWeight":"bold","fontSize":11,"align":"center","baseline":"middle"},"encoding":{"x":{"field":"mz","type":"quantitative","scale":{"domain":[7.5,2602],"nice":false,"zero":false}},"y":{"field":"i","type":"quantitative","scale":{"domain":[-143,2027],"nice":false,"zero":false}},"text":{"field":"t"},"color":{"field":"c","type":"nominal","scale":{"domain":["b","y"],"range":["#ee1c1c","#2020b0"]},"legend":null}}},
{"data":{"values":[{}]},"mark":{"type":"text","text":"b","font":"Liberation Sans","fontWeight":"bold","fontSize":17,"align":"center","baseline":"middle","color":"#000"},"encoding":{"x":{"datum":96,"type":"quantitative","scale":{"domain":[7.5,2602],"nice":false,"zero":false}},"y":{"datum":2007,"type":"quantitative","scale":{"domain":[-143,2027],"nice":false,"zero":false}}}}
]},
{"layer":[
{"data":{"name":"tabB"},"mark":{"type":"text","font":"Liberation Serif","fontSize":9,"align":"center","baseline":"middle","color":"#000"},"encoding":{"x":{"datum":886,"type":"quantitative"},"y":{"field":"r","type":"quantitative","scale":{"domain":[-0.31,32.69],"nice":false,"zero":false,"reverse":true},"axis":null},"text":{"field":"s"}}},
{"data":{"name":"tabB"},"mark":{"type":"text","font":"Liberation Serif","fontSize":9,"align":"center","baseline":"middle","color":"#ff2020"},"encoding":{"x":{"datum":1007,"type":"quantitative"},"y":{"field":"r","type":"quantitative","scale":{"domain":[-0.31,32.69],"nice":false,"zero":false,"reverse":true},"axis":null},"text":{"field":"bn"}}},
{"data":{"name":"tabB"},"mark":{"type":"text","font":"Liberation Serif","fontSize":9,"align":"left","baseline":"middle","color":"#000"},"encoding":{"x":{"datum":1100,"type":"quantitative"},"y":{"field":"r","type":"quantitative","scale":{"domain":[-0.31,32.69],"nice":false,"zero":false,"reverse":true},"axis":null},"text":{"field":"bp"}}},
{"data":{"name":"tabB"},"mark":{"type":"text","font":"Liberation Serif","fontSize":9,"align":"left","baseline":"middle","color":"#000"},"encoding":{"x":{"datum":1229,"type":"quantitative"},"y":{"field":"r","type":"quantitative","scale":{"domain":[-0.31,32.69],"nice":false,"zero":false,"reverse":true},"axis":null},"text":{"field":"yp"}}},
{"data":{"name":"tabB"},"mark":{"type":"text","font":"Liberation Serif","fontSize":9,"align":"center","baseline":"middle","color":"#5a86d6"},"encoding":{"x":{"datum":1426,"type":"quantitative"},"y":{"field":"r","type":"quantitative","scale":{"domain":[-0.31,32.69],"nice":false,"zero":false,"reverse":true},"axis":null},"text":{"field":"yn"}}},
{"data":{"name":"tabB"},"transform":[{"filter":"datum.bu == 1 && length(datum.bp) == 5"}],"mark":{"type":"rule","color":"#333","strokeWidth":1,"x2Offset":20,"yOffset":5},"encoding":{"x":{"datum":1100,"type":"quantitative"},"x2":{"datum":1100},"y":{"field":"r","type":"quantitative","scale":{"domain":[-0.31,32.69],"nice":false,"zero":false,"reverse":true},"axis":null}}},
{"data":{"name":"tabB"},"transform":[{"filter":"datum.bu == 1 && length(datum.bp) == 6"}],"mark":{"type":"rule","color":"#333","strokeWidth":1,"x2Offset":25,"yOffset":5},"encoding":{"x":{"datum":1100,"type":"quantitative"},"x2":{"datum":1100},"y":{"field":"r","type":"quantitative","scale":{"domain":[-0.31,32.69],"nice":false,"zero":false,"reverse":true},"axis":null}}},
{"data":{"name":"tabB"},"transform":[{"filter":"datum.bu == 1 && length(datum.bp) == 7"}],"mark":{"type":"rule","color":"#333","strokeWidth":1,"x2Offset":29,"yOffset":5},"encoding":{"x":{"datum":1100,"type":"quantitative"},"x2":{"datum":1100},"y":{"field":"r","type":"quantitative","scale":{"domain":[-0.31,32.69],"nice":false,"zero":false,"reverse":true},"axis":null}}},
{"data":{"name":"tabB"},"transform":[{"filter":"datum.yu == 1 && length(datum.yp) == 6"}],"mark":{"type":"rule","color":"#333","strokeWidth":1,"x2Offset":25,"yOffset":5},"encoding":{"x":{"datum":1229,"type":"quantitative"},"x2":{"datum":1229},"y":{"field":"r","type":"quantitative","scale":{"domain":[-0.31,32.69],"nice":false,"zero":false,"reverse":true},"axis":null}}},
{"data":{"name":"tabB"},"transform":[{"filter":"datum.yu == 1 && length(datum.yp) == 7"}],"mark":{"type":"rule","color":"#333","strokeWidth":1,"x2Offset":29,"yOffset":5},"encoding":{"x":{"datum":1229,"type":"quantitative"},"x2":{"datum":1229},"y":{"field":"r","type":"quantitative","scale":{"domain":[-0.31,32.69],"nice":false,"zero":false,"reverse":true},"axis":null}}},
{"data":{"values":[{}]},"mark":{"type":"text","text":"Seq","font":"Liberation Serif","fontSize":9,"align":"center","baseline":"middle","color":"#000"},"encoding":{"x":{"datum":886,"type":"quantitative"},"y":{"datum":0,"type":"quantitative","scale":{"domain":[-0.31,32.69],"nice":false,"zero":false,"reverse":true},"axis":null}}},
{"data":{"values":[{}]},"mark":{"type":"text","text":"b#","font":"Liberation Serif","fontSize":9,"align":"center","baseline":"middle","color":"#ff2020"},"encoding":{"x":{"datum":1007,"type":"quantitative"},"y":{"datum":0,"type":"quantitative","scale":{"domain":[-0.31,32.69],"nice":false,"zero":false,"reverse":true},"axis":null}}},
{"data":{"values":[{}]},"mark":{"type":"text","text":"b⁺","font":"Liberation Serif","fontSize":9,"align":"left","baseline":"middle","color":"#000"},"encoding":{"x":{"datum":1100,"type":"quantitative"},"y":{"datum":0,"type":"quantitative","scale":{"domain":[-0.31,32.69],"nice":false,"zero":false,"reverse":true},"axis":null}}},
{"data":{"values":[{}]},"mark":{"type":"text","text":"y⁺","font":"Liberation Serif","fontSize":9,"align":"left","baseline":"middle","color":"#000"},"encoding":{"x":{"datum":1229,"type":"quantitative"},"y":{"datum":0,"type":"quantitative","scale":{"domain":[-0.31,32.69],"nice":false,"zero":false,"reverse":true},"axis":null}}},
{"data":{"values":[{}]},"mark":{"type":"text","text":"y#","font":"Liberation Serif","fontSize":9,"align":"center","baseline":"middle","color":"#5a86d6"},"encoding":{"x":{"datum":1426,"type":"quantitative"},"y":{"datum":0,"type":"quantitative","scale":{"domain":[-0.31,32.69],"nice":false,"zero":false,"reverse":true},"axis":null}}}
]}
],
"resolve":{"scale":{"y":"independent"}}
}
]
}
